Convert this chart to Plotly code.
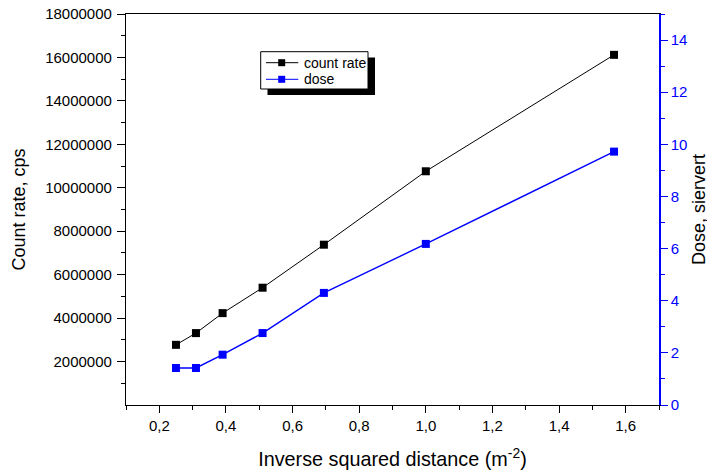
import plotly.graph_objects as go

# data
inv_sq_dist = [0.25, 0.31, 0.39, 0.51, 0.694, 1.0, 1.565]
count_rate = [2.77e6, 3.31e6, 4.23e6, 5.40e6, 7.38e6, 10.76e6, 16.12e6]
dose = [1.42, 1.42, 1.93, 2.76, 4.30, 6.18, 9.72]
series_names = ["count rate", "dose"]

x_ticks = [0.2, 0.4, 0.6, 0.8, 1.0, 1.2, 1.4, 1.6]
x_ticktext = ["0,2", "0,4", "0,6", "0,8", "1,0", "1,2", "1,4", "1,6"]
count_ticks = [2e6, 4e6, 6e6, 8e6, 10e6, 12e6, 14e6, 16e6, 18e6]
count_ticktext = ["2000000", "4000000", "6000000", "8000000", "10000000",
                  "12000000", "14000000", "16000000", "18000000"]
dose_ticks = [0, 2, 4, 6, 8, 10, 12, 14]

FONT = "Arial, Liberation Sans, sans-serif"
BLUE = "#0000ff"
colors = ["black", BLUE]

# page body has an 8px margin, so the figure is a bit smaller than the window
W, H = 707, 463
L, R, T, B = 118, 56, 6, 66
PW, PH = W - L - R, H - T - B


def paper(xs, ys):
    # window pixel -> paper coords
    return (xs - 8 - L) / PW, (H - B - (ys - 8)) / PH


fig = go.Figure()
fig.add_trace(go.Scatter(
    x=inv_sq_dist, y=count_rate, name=series_names[0], mode="lines+markers",
    line=dict(color=colors[0], width=1),
    marker=dict(symbol="square", size=8, color=colors[0]),
))
fig.add_trace(go.Scatter(
    x=inv_sq_dist, y=dose, name=series_names[1], mode="lines+markers", yaxis="y2",
    line=dict(color=colors[1], width=1.4),
    marker=dict(symbol="square", size=8, color=colors[1]),
))

# hand-made legend box with drop shadow (Origin style)
shapes = []
x0, y0 = paper(267.5, 95)
x1, y1 = paper(375, 57.5)
shapes.append(dict(type="rect", xref="paper", yref="paper", x0=x0, x1=x1, y0=y0, y1=y1,
                   fillcolor="black", line=dict(width=0)))
x0, y0 = paper(260.7, 89)
x1, y1 = paper(368, 51.7)
shapes.append(dict(type="rect", xref="paper", yref="paper", x0=x0, x1=x1, y0=y0, y1=y1,
                   fillcolor="white", line=dict(color="black", width=1)))
annotations = []
for i, (name, c) in enumerate(zip(series_names, colors)):
    row_y = 62.7 + i * 16.6
    lx0, ly = paper(266, row_y)
    lx1, _ = paper(298.3, row_y)
    shapes.append(dict(type="line", xref="paper", yref="paper", x0=lx0, x1=lx1, y0=ly, y1=ly,
                       line=dict(color=c, width=1)))
    mx0, my0 = paper(281.7 - 3.5, row_y + 3.5)
    mx1, my1 = paper(281.7 + 3.5, row_y - 3.5)
    shapes.append(dict(type="rect", xref="paper", yref="paper", x0=mx0, x1=mx1, y0=my0, y1=my1,
                       fillcolor=c, line=dict(width=0)))
    tx, _ = paper(301.5, row_y)
    annotations.append(dict(xref="paper", yref="paper", x=tx, y=ly, text=name, showarrow=False,
                            xanchor="left", yanchor="middle", font=dict(size=14, color="black")))

fig.update_layout(
    width=W, height=H,
    template="none",
    plot_bgcolor="white", paper_bgcolor="white",
    font=dict(family=FONT, size=15, color="black"),
    margin=dict(l=L, r=R, t=T, b=B, autoexpand=False),
    showlegend=False,
    shapes=shapes,
    annotations=annotations,
    xaxis=dict(
        range=[0.1, 1.7], showgrid=False, zeroline=False,
        showline=True, linecolor="black", linewidth=1.2, mirror=True,
        tickmode="array", tickvals=x_ticks, ticktext=x_ticktext,
        ticks="outside", ticklen=7, tickcolor="black",
        minor=dict(tickmode="linear", tick0=0.1, dtick=0.2, ticks="outside", ticklen=4,
                   tickcolor="black", showgrid=False),
        title=dict(text="Inverse squared distance (m<sup>-2</sup>)", font=dict(size=19.8), standoff=19),
        automargin=False,
    ),
    yaxis=dict(
        range=[0, 18e6], showgrid=False, zeroline=False,
        showline=True, linecolor="black", linewidth=1.2,
        tickmode="array", tickvals=count_ticks, ticktext=count_ticktext,
        ticks="outside", ticklen=8, tickcolor="black", ticklabelstandoff=2,
        ticklabeloverflow="allow",
        minor=dict(tickmode="linear", tick0=1e6, dtick=2e6, ticks="outside", ticklen=4,
                   tickcolor="black", showgrid=False),
        title=dict(text="Count rate, cps", font=dict(size=18), standoff=14),
        automargin=False,
    ),
    yaxis2=dict(
        overlaying="y", side="right", range=[0, 15], showgrid=False, zeroline=False,
        showline=True, linecolor=BLUE, linewidth=1.5,
        tickmode="array", tickvals=dose_ticks,
        ticks="outside", ticklen=7, tickcolor=BLUE,
        tickfont=dict(color=BLUE),
        minor=dict(tickmode="linear", tick0=1, dtick=2, ticks="outside", ticklen=4,
                   tickcolor=BLUE, showgrid=False),
        title=dict(text="Dose, siervert", font=dict(size=18, color="black"), standoff=6),
        automargin=False,
    ),
)

fig.write_html("out.html")
